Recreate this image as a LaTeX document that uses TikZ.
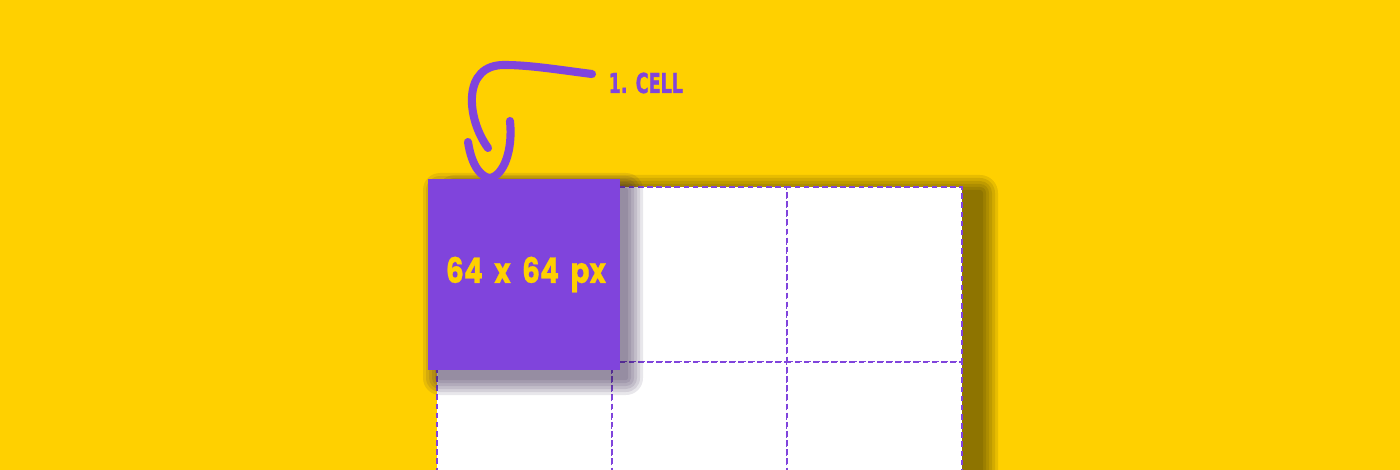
\documentclass[tikz,border=0pt]{standalone}
\usepackage{fontspec}
\newfontfamily\sizefont{Poppins}[FakeStretch=0.8,WordSpace=1.9,FakeBold=0.6]
\newfontfamily\tagfont{DejaVu Sans}[FakeStretch=0.64,FakeBold=1.2]
\usetikzlibrary{positioning}
\definecolor{bgyellow}{HTML}{FFD000}
\definecolor{cellpurple}{HTML}{8044DC}

\begin{document}
\begin{tikzpicture}[x=0.01cm,y=-0.01cm,
    gridcell/.style={draw=cellpurple,dash pattern=on 1.6pt off 1pt,line width=0.5pt,
      fill=white,minimum size=1.75cm,inner sep=0pt,outer sep=0pt},
    bigcell/.style={fill=cellpurple,minimum width=1.92cm,minimum height=1.91cm,
      inner sep=0pt,text=bgyellow,font=\sizefont\bfseries\fontsize{10}{12}\selectfont},
    tag/.style={text=cellpurple,inner sep=0pt,font=\tagfont\bfseries\fontsize{7.8}{9}\selectfont},
    hook/.style={draw=cellpurple,line width=2.3pt,line cap=round}]
  \useasboundingbox (0,0) rectangle (1400,470);
  \clip (0,0) rectangle (1400,470);
  \fill[bgyellow] (0,0) rectangle (1400,470);

  % soft shadow behind the grid
  \foreach \r in {3,6,...,18}
    \fill[black,opacity=0.09,rounded corners=\r*0.01cm]
      (455-\r,193-\r) rectangle (980+\r,600);

  % 3 x 2 grid of cells
  \foreach \i in {0,1,2}
    \foreach \j in {0,1}
      \node[gridcell] (g\i\j) at (524.5+175*\i,274.5+175*\j) {};

  % shadow of the picked cell
  \foreach \r in {2,5,...,17}
    \fill[cellpurple!30!black,opacity=0.1,rounded corners=\r*0.01cm]
      (440-\r,190-\r) rectangle (626+\r,378+\r);

  \node[bigcell] (cell) at (524,274.5) {\hspace{0.04cm}64 x 64 px};

  \node[tag,anchor=west] (lbl) at (608,83) {1. CELL};
  \coordinate (bend) at (488,148);
  \coordinate (uleft) at (468,142);
  \coordinate (uright) at (510,121);

  %hand drawn pointer
  \draw[hook] (lbl.west) ++(-16,-9) .. controls (560,70) and (530,65) .. (505,65)
    .. controls (462,64) and (466,118) .. (bend);
  \draw[hook] (uleft) .. controls (472,168) and (482,177) .. (cell.north -| 490,0)
    .. controls (504,175) and (513,150) .. (uright);
\end{tikzpicture}
\end{document}
